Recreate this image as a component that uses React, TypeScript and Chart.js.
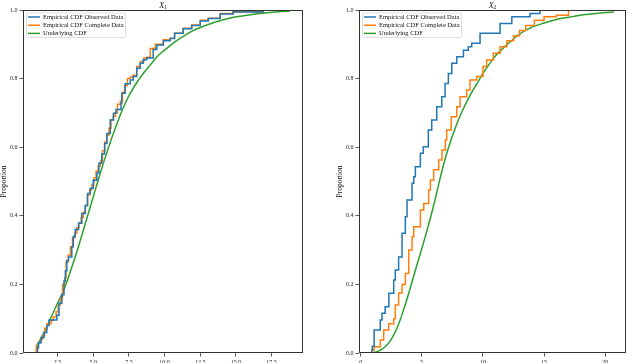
import React, { useEffect, useRef } from "react";
import { Chart, registerables } from "chart.js";
Chart.register(...registerables);

const SERIES_LABELS = ["Empirical CDF Observed Data", "Empirical CDF Complete Data", "Underlying CDF"];
const COLORS = ["#1f77b4", "#ff7f0e", "#2ca02c"];
const Y_TICKS = [0, 0.2, 0.4, 0.6, 0.8, 1.0];
const X1_TICKS = [2.5, 5, 7.5, 10, 12.5, 15, 17.5];
const X2_TICKS = [0, 5, 10, 15, 20];

// Panel X1
const X1_OBS_X = [1.1, 1.17, 1.35, 1.55, 1.75, 1.9, 2.45, 2.6, 2.8, 2.95, 3.05, 3.15, 3.27, 3.5, 3.6, 3.74, 3.97, 4.2, 4.44, 4.6, 4.79, 5.0, 5.26, 5.4, 5.6, 5.8, 5.96, 6.19, 6.42, 6.6, 6.95, 7.0, 7.24, 7.59, 7.8, 8.05, 8.29, 8.5, 8.75, 9.2, 9.46, 9.92, 10.39, 10.7, 11.3, 11.9, 12.5, 13.07, 13.9, 14.8, 16.9, 18.8];
const X1_OBS_Y = [0, 0.015, 0.03, 0.045, 0.06, 0.08, 0.096, 0.11, 0.145, 0.17, 0.21, 0.24, 0.27, 0.28, 0.31, 0.34, 0.36, 0.378, 0.407, 0.43, 0.465, 0.48, 0.504, 0.525, 0.553, 0.58, 0.611, 0.64, 0.679, 0.699, 0.71, 0.728, 0.757, 0.785, 0.796, 0.806, 0.83, 0.845, 0.855, 0.86, 0.885, 0.898, 0.91, 0.917, 0.932, 0.945, 0.955, 0.968, 0.975, 0.988, 0.994, 1.0];
const X1_CMP_X = [1.0, 1.02, 1.15, 1.3, 1.45, 1.6, 1.76, 2.05, 2.2, 2.4, 2.55, 2.7, 2.85, 3.0, 3.1, 3.25, 3.4, 3.55, 3.7, 3.85, 4.0, 4.15, 4.3, 4.45, 4.6, 4.75, 4.9, 5.05, 5.2, 5.35, 5.5, 5.65, 5.8, 5.95, 6.1, 6.25, 6.4, 6.55, 6.7, 6.9, 7.05, 7.2, 7.4, 7.6, 7.8, 8.05, 8.3, 8.55, 8.75, 9.0, 9.35, 9.9, 10.4, 10.7, 11.3, 11.9, 12.5, 13.05, 13.9, 14.8, 16.9, 18.8];
const X1_CMP_Y = [0, 0.01, 0.02, 0.03, 0.04, 0.05, 0.072, 0.085, 0.095, 0.105, 0.12, 0.14, 0.16, 0.2, 0.22, 0.265, 0.285, 0.31, 0.335, 0.35, 0.365, 0.38, 0.395, 0.41, 0.43, 0.46, 0.475, 0.49, 0.51, 0.53, 0.545, 0.56, 0.59, 0.615, 0.635, 0.655, 0.68, 0.69, 0.7, 0.725, 0.735, 0.76, 0.78, 0.8, 0.805, 0.81, 0.835, 0.85, 0.86, 0.862, 0.888, 0.9, 0.913, 0.918, 0.932, 0.947, 0.956, 0.97, 0.976, 0.99, 0.995, 1.0];
const X1_TRUE_X = [1.0, 1.5, 2, 2.5, 3, 3.5, 4, 4.5, 5, 5.5, 6, 6.5, 7, 7.5, 8, 8.5, 9, 9.5, 10, 10.5, 11, 12, 13, 14, 15, 16, 17, 18, 18.8];
const X1_TRUE_Y = [0.018, 0.055, 0.1, 0.145, 0.19, 0.25, 0.315, 0.385, 0.455, 0.525, 0.59, 0.65, 0.705, 0.75, 0.785, 0.815, 0.84, 0.865, 0.883, 0.9, 0.915, 0.94, 0.957, 0.97, 0.98, 0.986, 0.991, 0.995, 0.997];

// Panel X2
const X2_OBS_X = [0.92, 0.95, 1.1, 1.6, 1.74, 2.0, 2.3, 2.7, 2.83, 3.1, 3.38, 3.65, 3.79, 4.2, 4.34, 4.47, 4.88, 5.12, 5.53, 5.81, 6.22, 6.63, 6.9, 7.17, 7.45, 7.86, 8.4, 8.8, 9.08, 9.76, 11.4, 12.36, 13.85, 14.67, 19.0];
const X2_OBS_Y = [0, 0.01, 0.02, 0.067, 0.096, 0.116, 0.135, 0.174, 0.213, 0.242, 0.28, 0.349, 0.397, 0.446, 0.495, 0.514, 0.543, 0.582, 0.601, 0.65, 0.679, 0.718, 0.747, 0.786, 0.815, 0.845, 0.864, 0.883, 0.893, 0.903, 0.932, 0.961, 0.98, 0.99, 1.0];
const X2_CMP_X = [0.95, 1.1, 1.6, 1.88, 2.29, 2.7, 2.83, 3.1, 3.38, 3.65, 3.93, 4.2, 4.34, 4.88, 5.16, 5.56, 5.7, 5.97, 6.38, 6.65, 6.92, 7.03, 7.4, 7.86, 8.13, 8.67, 8.94, 9.49, 10.0, 10.3, 10.85, 11.4, 11.95, 12.5, 13.0, 13.5, 14.2, 15.0, 16.0, 17.0, 20.7];
const X2_CMP_Y = [0, 0.008, 0.018, 0.038, 0.067, 0.085, 0.1, 0.14, 0.175, 0.2, 0.232, 0.3, 0.339, 0.368, 0.417, 0.436, 0.475, 0.504, 0.534, 0.563, 0.592, 0.621, 0.65, 0.689, 0.718, 0.747, 0.767, 0.796, 0.806, 0.835, 0.854, 0.874, 0.893, 0.91, 0.925, 0.94, 0.955, 0.97, 0.98, 0.985, 1.0];
const X2_TRUE_X = [0.9, 1.5, 2, 2.5, 3, 3.5, 4, 4.5, 5, 5.5, 6, 6.5, 7, 7.5, 8, 8.5, 9, 9.5, 10, 11, 12, 13, 14, 15, 16, 17, 18, 19, 20.7];
const X2_TRUE_Y = [0, 0.006, 0.018, 0.04, 0.075, 0.125, 0.183, 0.245, 0.305, 0.367, 0.435, 0.51, 0.578, 0.633, 0.68, 0.72, 0.755, 0.785, 0.815, 0.865, 0.9, 0.93, 0.95, 0.962, 0.972, 0.979, 0.985, 0.989, 0.994];

const FONT = "'Liberation Serif', 'DejaVu Serif', serif";

const pts = (xs: number[], ys: number[]) => xs.map((x, i) => ({ x, y: ys[i] }));

const framePlugin = {
  id: "frame",
  afterDraw(chart: any) {
    const { ctx, chartArea } = chart;
    ctx.save();
    ctx.strokeStyle = "#333";
    ctx.lineWidth = 1;
    ctx.strokeRect(Math.round(chartArea.left) + 0.5, Math.round(chartArea.top) + 0.5,
      Math.round(chartArea.right - chartArea.left) - 1, Math.round(chartArea.bottom - chartArea.top) - 1);
    ctx.restore();
  },
};

const titlePlugin = {
  id: "subTitle",
  afterDraw(chart: any) {
    const sub = chart.options.plugins.subTitle.sub;
    const { ctx, chartArea } = chart;
    const cx = (chartArea.left + chartArea.right) / 2;
    ctx.save();
    ctx.fillStyle = "#111";
    ctx.textBaseline = "alphabetic";
    ctx.font = `italic 8px ${FONT}`;
    const w1 = ctx.measureText("X").width;
    ctx.font = `5.5px ${FONT}`;
    const w2 = ctx.measureText(sub).width;
    const x0 = cx - (w1 + w2) / 2;
    ctx.font = `italic 8px ${FONT}`;
    ctx.fillText("X", x0, 7.5);
    ctx.font = `5.5px ${FONT}`;
    ctx.fillText(sub, x0 + w1, 9);
    ctx.restore();
  },
};

const legendPlugin = {
  id: "boxLegend",
  afterDatasetsDraw(chart: any) {
    const { ctx, chartArea } = chart;
    const x0 = chartArea.left + 3.5;
    const y0 = chartArea.top + 3;
    const w = 99, h = 24.5, r = 2;
    ctx.save();
    ctx.beginPath();
    ctx.moveTo(x0 + r, y0);
    ctx.lineTo(x0 + w - r, y0);
    ctx.quadraticCurveTo(x0 + w, y0, x0 + w, y0 + r);
    ctx.lineTo(x0 + w, y0 + h - r);
    ctx.quadraticCurveTo(x0 + w, y0 + h, x0 + w - r, y0 + h);
    ctx.lineTo(x0 + r, y0 + h);
    ctx.quadraticCurveTo(x0, y0 + h, x0, y0 + h - r);
    ctx.lineTo(x0, y0 + r);
    ctx.quadraticCurveTo(x0, y0, x0 + r, y0);
    ctx.closePath();
    ctx.fillStyle = "rgba(255,255,255,0.8)";
    ctx.fill();
    ctx.strokeStyle = "#d6d6d6";
    ctx.lineWidth = 0.8;
    ctx.stroke();
    ctx.font = `6.5px ${FONT}`;
    ctx.textBaseline = "middle";
    SERIES_LABELS.forEach((label, i) => {
      const yy = y0 + 4 + i * 8.2;
      ctx.strokeStyle = COLORS[i];
      ctx.lineWidth = 1.5;
      ctx.beginPath();
      ctx.moveTo(x0 + 1.5, yy);
      ctx.lineTo(x0 + 13.5, yy);
      ctx.stroke();
      ctx.fillStyle = "#111";
      ctx.fillText(label, x0 + 16.5, yy + 0.3);
    });
    ctx.restore();
  },
};

type Panel = {
  sub: string;
  obs: { x: number; y: number }[];
  cmp: { x: number; y: number }[];
  tru: { x: number; y: number }[];
  xmin: number;
  xmax: number;
  xticks: number[];
  fmt: (v: number) => string;
  pad: { left: number; right: number; top: number; bottom: number };
};

function CdfChart({ panel }: { panel: Panel }) {
  const ref = useRef<HTMLCanvasElement | null>(null);
  useEffect(() => {
    if (!ref.current) return;
    const chart = new Chart(ref.current, {
      type: "line",
      data: {
        datasets: [
          { label: SERIES_LABELS[0], data: panel.obs, borderColor: COLORS[0], borderWidth: 1.5, pointRadius: 0, stepped: "after", fill: false },
          { label: SERIES_LABELS[1], data: panel.cmp, borderColor: COLORS[1], borderWidth: 1.5, pointRadius: 0, stepped: "after", fill: false },
          { label: SERIES_LABELS[2], data: panel.tru, borderColor: COLORS[2], borderWidth: 1.5, pointRadius: 0, tension: 0.4, cubicInterpolationMode: "monotone", fill: false },
        ],
      },
      options: {
        animation: false,
        responsive: false,
        maintainAspectRatio: false,
        layout: { padding: panel.pad },
        plugins: {
          legend: { display: false },
          tooltip: { enabled: false },
          title: { display: false },
          subTitle: { sub: panel.sub },
        } as any,
        scales: {
          x: {
            type: "linear",
            min: panel.xmin,
            max: panel.xmax,
            afterBuildTicks: (s: any) => { s.ticks = panel.xticks.map((v) => ({ value: v })); },
            afterFit: (s: any) => { s.height = 10; },
            ticks: { callback: (v: any) => panel.fmt(Number(v)), font: { family: FONT, size: 6 }, color: "#222", padding: 2.5, maxRotation: 0, autoSkip: false },
            grid: { display: true, drawOnChartArea: false, drawTicks: true, tickLength: 3.5, tickColor: "#333", tickWidth: 0.8 },
            border: { display: false },
          },
          y: {
            type: "linear",
            min: 0,
            max: 1,
            afterBuildTicks: (s: any) => { s.ticks = Y_TICKS.map((v) => ({ value: v })); },
            afterFit: (s: any) => { s.width = 23; },
            ticks: { callback: (v: any) => Number(v).toFixed(1), font: { family: FONT, size: 6 }, color: "#222", padding: 2 },
            grid: { display: true, drawOnChartArea: false, drawTicks: true, tickLength: 3.5, tickColor: "#333", tickWidth: 0.8 },
            border: { display: false },
            title: { display: true, text: "Proportion", font: { family: FONT, size: 7.5 }, color: "#111", padding: 0 },
          },
        },
      },
      plugins: [framePlugin, titlePlugin, legendPlugin],
    } as any);
    return () => chart.destroy();
  }, [panel]);
  return <canvas ref={ref} width={320} height={363} style={{ display: "block", width: 320, height: 363 }} />;
}

const PANEL1: Panel = {
  sub: "1",
  obs: pts(X1_OBS_X, X1_OBS_Y),
  cmp: pts(X1_CMP_X, X1_CMP_Y),
  tru: pts(X1_TRUE_X, X1_TRUE_Y),
  xmin: 0.08,
  xmax: 19.7,
  xticks: X1_TICKS,
  fmt: (v) => v.toFixed(1),
  pad: { left: 0, right: 17, top: 10, bottom: 0 },
};

const PANEL2: Panel = {
  sub: "2",
  obs: pts(X2_OBS_X, X2_OBS_Y),
  cmp: pts(X2_CMP_X, X2_CMP_Y),
  tru: pts(X2_TRUE_X, X2_TRUE_Y),
  xmin: -0.14,
  xmax: 21.7,
  xticks: X2_TICKS,
  fmt: (v) => String(Math.round(v)),
  pad: { left: 16, right: 14, top: 10, bottom: 0 },
};

export default function App() {
  return (
    <div style={{ position: "fixed", left: 0, top: 0, width: 640, height: 363, display: "flex", background: "#fff" }}>
      <CdfChart panel={PANEL1} />
      <CdfChart panel={PANEL2} />
    </div>
  );
}
